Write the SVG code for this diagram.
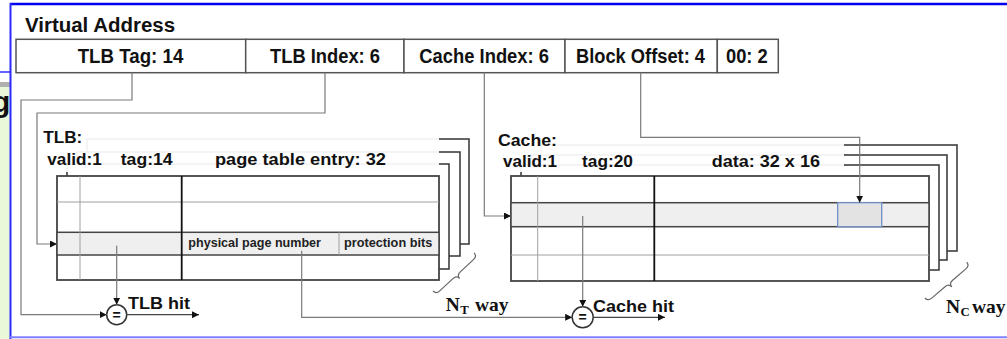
<svg xmlns="http://www.w3.org/2000/svg" width="1007" height="339" viewBox="0 0 1007 339">
<defs>
<style>
.t{font-family:"Liberation Sans",Arial,sans-serif;font-weight:bold;fill:#111}
.f{font-size:19.5px}
.l{font-size:16.5px}
.s{font-size:12.6px;fill:#222}
.tm{font-family:"Liberation Serif","Times New Roman",serif;font-weight:bold;fill:#111;font-size:19.5px}
.fld{fill:#fff;stroke:#555;stroke-width:1.5}
.lay{fill:#fff;stroke:#333;stroke-width:1.5}
.tbl{fill:#fff;stroke:#444;stroke-width:1.8}
.thin{stroke:#a0a0a0;stroke-width:1;fill:none}
.thick{stroke:#111;stroke-width:1.8;fill:none}
.sel{fill:#efefef;stroke:#444;stroke-width:1.5}
.tb{fill:#fff;fill-opacity:0.93;stroke:none}
.con{fill:none;stroke:#7a7a7a;stroke-width:1.2}
.out{fill:none;stroke:#444;stroke-width:1.2}
.cmp{fill:#fff;stroke:#333;stroke-width:1.5}
.br{fill:none;stroke:#666;stroke-width:1.2}
</style>
<marker id="ah" markerUnits="userSpaceOnUse" markerWidth="7" markerHeight="7" refX="7" refY="3.5" orient="auto">
<path d="M0,0 L7,3.5 L0,7 z" fill="#111"/>
</marker>
<clipPath id="lc"><rect x="0" y="0" width="10" height="339"/></clipPath>
</defs>
<rect x="0" y="0" width="1007" height="339" fill="#fff"/>
<g id="frame">
<rect x="0" y="87" width="10" height="252" fill="#e8f8d8"/>
<rect x="0" y="82" width="10" height="5" fill="#b0b0b0"/>
<line x1="0" y1="72" x2="10" y2="72" stroke="#3030ff" stroke-width="1.5"/>
<text x="-8" y="112" clip-path="url(#lc)" style="font-family:'Liberation Sans',Arial,sans-serif;font-weight:bold;font-size:30px;fill:#111">g</text>
<line x1="10" y1="4" x2="1007" y2="4" stroke="#0000ee" stroke-width="2.5"/>
<line x1="10.5" y1="3" x2="10.5" y2="339" stroke="#2a2aff" stroke-width="2"/>
<line x1="10" y1="337.3" x2="1007" y2="337.3" stroke="#8080ff" stroke-width="2"/>
</g>
<g id="virtual-address">
<text class="t" x="25" y="31.7" style="font-size:20px" textLength="150" lengthAdjust="spacingAndGlyphs">Virtual Address</text>
<g id="f-tlbtag"><rect class="fld" x="16" y="39.3" width="229.7" height="33.4"/><text class="t f" x="77.7" y="63" textLength="105.6" lengthAdjust="spacingAndGlyphs">TLB Tag: 14</text></g>
<g id="f-tlbindex"><rect class="fld" x="245.7" y="39.3" width="158.3" height="33.4"/><text class="t f" x="270" y="63" textLength="110" lengthAdjust="spacingAndGlyphs">TLB Index: 6</text></g>
<g id="f-cacheindex"><rect class="fld" x="404" y="39.3" width="161" height="33.4"/><text class="t f" x="419.3" y="63" textLength="129.7" lengthAdjust="spacingAndGlyphs">Cache Index: 6</text></g>
<g id="f-blockoffset"><rect class="fld" x="565" y="39.3" width="152.3" height="33.4"/><text class="t f" x="576" y="63" textLength="129" lengthAdjust="spacingAndGlyphs">Block Offset: 4</text></g>
<g id="f-00"><rect class="fld" x="717.3" y="39.3" width="61" height="33.4"/><text class="t f" x="726" y="63" textLength="41.7" lengthAdjust="spacingAndGlyphs">00: 2</text></g>
</g>
<g id="tlb">
<rect class="lay" x="87" y="139" width="382" height="105"/>
<rect class="lay" x="77" y="152" width="383" height="104"/>
<rect class="lay" x="67" y="164" width="382" height="105"/>
<rect class="tb" x="40" y="124" width="399" height="48"/>
<text class="t l" x="43.3" y="142.7" textLength="39" lengthAdjust="spacingAndGlyphs">TLB:</text>
<text class="t l" x="47.3" y="164.8" textLength="54.4" lengthAdjust="spacingAndGlyphs">valid:1</text>
<text class="t l" x="120.7" y="164.8" textLength="52" lengthAdjust="spacingAndGlyphs">tag:14</text>
<text class="t l" x="215" y="164.8" textLength="171" lengthAdjust="spacingAndGlyphs">page table entry: 32</text>
<rect class="tbl" x="57" y="176" width="382" height="104"/>
<line class="thin" x1="57" y1="202" x2="439" y2="202"/>
<rect class="sel" x="57" y="232.3" width="382" height="22.7"/>
<line class="thin" x1="80" y1="176" x2="80" y2="280"/>
<line class="thin" x1="339" y1="232.3" x2="339" y2="255"/>
<line class="thick" x1="181.7" y1="176" x2="181.7" y2="280"/>
<text class="t s" x="188.3" y="247" textLength="132.7" lengthAdjust="spacingAndGlyphs">physical page number</text>
<text class="t s" x="344" y="247" textLength="88.3" lengthAdjust="spacingAndGlyphs">protection bits</text>
<path class="br" transform="translate(433,291) rotate(-42.8)" d="M0,0 Q0,4.5 5,4.5 L23,4.5 Q28,4.5 28,9 Q28,4.5 33,4.5 L51,4.5 Q56,4.5 56,0"/>
<text class="tm"><tspan x="445.7" y="310.7">N</tspan><tspan x="460.3" y="314" style="font-size:12.8px">T</tspan><tspan x="475" y="310.7">way</tspan></text>
</g>
<g id="cache">
<rect class="lay" x="541" y="145" width="416" height="106"/>
<rect class="lay" x="531" y="155" width="416" height="105"/>
<rect class="lay" x="521" y="165" width="418" height="105"/>
<rect class="tb" x="494" y="124" width="350" height="48"/>
<text class="t l" x="498" y="145.7" textLength="59" lengthAdjust="spacingAndGlyphs">Cache:</text>
<text class="t l" x="503" y="167" textLength="54" lengthAdjust="spacingAndGlyphs">valid:1</text>
<text class="t l" x="582" y="167" textLength="51" lengthAdjust="spacingAndGlyphs">tag:20</text>
<text class="t l" x="711.7" y="167" textLength="108.3" lengthAdjust="spacingAndGlyphs">data: 32 x 16</text>
<rect class="tbl" x="511" y="176" width="418" height="105"/>
<rect class="sel" x="511" y="202.7" width="418" height="24"/>
<rect x="837.7" y="202.7" width="44" height="24" fill="#e3e3e3" stroke="#6f8fc8" stroke-width="1.3"/>
<line class="thin" x1="511" y1="255" x2="929" y2="255"/>
<line class="thin" x1="537.7" y1="176" x2="537.7" y2="281"/>
<line class="thick" x1="654.3" y1="176" x2="654.3" y2="281"/>
<path class="br" transform="translate(925,298) rotate(-40.6)" d="M0,0 Q0,4.5 5,4.5 L22.5,4.5 Q27.5,4.5 27.5,9 Q27.5,4.5 32.5,4.5 L50,4.5 Q55,4.5 55,0"/>
<text class="tm"><tspan x="946" y="313">N</tspan><tspan x="960.5" y="316.3" style="font-size:12.8px">C</tspan><tspan x="972" y="313">way</tspan></text>
</g>
<g id="tlb-compare">
<circle class="cmp" cx="116.7" cy="314.7" r="10"/>
<text class="t" x="116.7" y="319.6" text-anchor="middle" style="font-size:14px">=</text>
<text class="t" x="128" y="309" style="font-size:16.5px" textLength="62" lengthAdjust="spacingAndGlyphs">TLB hit</text>
</g>
<g id="cache-compare">
<circle class="cmp" cx="582.7" cy="317.3" r="10.5"/>
<text class="t" x="582.7" y="322.2" text-anchor="middle" style="font-size:14px">=</text>
<text class="t" x="593" y="311.7" style="font-size:16.5px" textLength="81" lengthAdjust="spacingAndGlyphs">Cache hit</text>
</g>
<g id="connectors">
<path class="con" d="M132,72.7 V100 H21 V314.7 H106.7" marker-end="url(#ah)"/>
<path class="con" d="M325,72.7 V113 H37 V244 H57" marker-end="url(#ah)"/>
<path class="con" d="M484.3,72.7 V216 H511" marker-end="url(#ah)"/>
<path class="con" d="M640.7,72.7 V137.3 H859.7 V202.7" marker-end="url(#ah)"/>
<path class="con" d="M116.7,245.7 V304.7" marker-end="url(#ah)"/>
<path class="con" d="M301.7,250.7 V317.3 H572.2" marker-end="url(#ah)"/>
<path class="con" d="M582.7,216 V306.8" marker-end="url(#ah)"/>
<path class="out" d="M126.7,314.7 H199" marker-end="url(#ah)"/>
<path class="out" d="M593.2,317.3 H665" marker-end="url(#ah)"/>
</g>
</svg>
